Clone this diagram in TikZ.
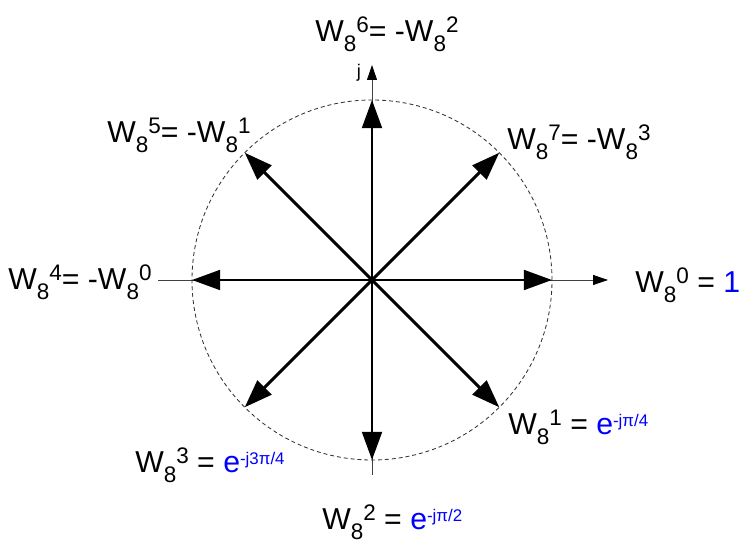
\documentclass[tikz,border=0pt]{standalone}
\usepackage{fontspec}
\setmainfont{Liberation Sans}
\usepackage{tikz}
\usetikzlibrary{arrows.meta}
\usepackage{xcolor}
\newcommand{\lblsz}{\fontsize{21.5}{25}\selectfont}
\newcommand{\idxsz}{\fontsize{16}{19}\selectfont}
\newcommand{\Wn}[1]{W\raisebox{-6.8pt}{\idxsz 8}\raisebox{7pt}{\idxsz #1}}
\newcommand{\bluexp}[1]{\textcolor{blue}{e\raisebox{6.2pt}{\fontsize{12}{14}\selectfont #1}}}

\begin{document}
\begin{tikzpicture}[x=0.025cm,y=0.025cm,font=\lblsz,line cap=butt,
  vec/.style={line width=2.1pt,-{Triangle[length=20pt,width=14pt]}},
  axis/.style={black!75,line width=0.6pt,-{Triangle[length=10.5pt,width=7pt,black]}},
  lbl/.style={anchor=base west,inner sep=0pt}]
\useasboundingbox (0,0) rectangle (741,544);
\coordinate (O) at (372,264);
\coordinate (xl) at (158,264);
\coordinate (xr) at (608,264);
\coordinate (yb) at (372,69);
\coordinate (yt) at (372,479);
\draw[axis] (xl) -- (xr);
\draw[axis] (yb) -- (yt);
\draw[black!80,line width=0.6pt,dash pattern=on 2.8pt off 2.1pt] (O) circle (180);
\path (O) ++(0:180) coordinate (p0);
\path (O) ++(-45:180) coordinate (p1);
\path (O) ++(-90:180) coordinate (p2);
\path (O) ++(-135:180) coordinate (p3);
\path (O) ++(180:180) coordinate (p4);
\path (O) ++(135:180) coordinate (p5);
\path (O) ++(90:180) coordinate (p6);
\path (O) ++(45:180) coordinate (p7);
\draw[vec] (O) -- (p0);
\draw[vec] (O) -- (p1);
\draw[vec] (O) -- (p2);
\draw[vec] (O) -- (p3);
\draw[vec] (O) -- (p4);
\draw[vec] (O) -- (p5);
\draw[vec] (O) -- (p6);
\draw[vec] (O) -- (p7);
\node[anchor=base,font=\fontsize{13}{15}\selectfont] (jlbl) at (359,466) {j};
\node[lbl] (w0) at (635,251) {\Wn{0} = \textcolor{blue}{1}};
\node[lbl] (w1) at (508,109) {\Wn{1} = \bluexp{-jπ/4}};
\node[lbl] (w2) at (322,14) {\Wn{2} = \bluexp{-jπ/2}};
\node[lbl] (w3) at (135,71) {\Wn{3} = \bluexp{-j3π/4}};
\node[lbl] (w4) at (8,254) {\Wn{4}= -\Wn{0}};
\node[lbl] (w5) at (107,401) {\Wn{5}= -\Wn{1}};
\node[lbl] (w6) at (315,502) {\Wn{6}= -\Wn{2}};
\node[lbl] (w7) at (507,394) {\Wn{7}= -\Wn{3}};
\end{tikzpicture}
\end{document}
